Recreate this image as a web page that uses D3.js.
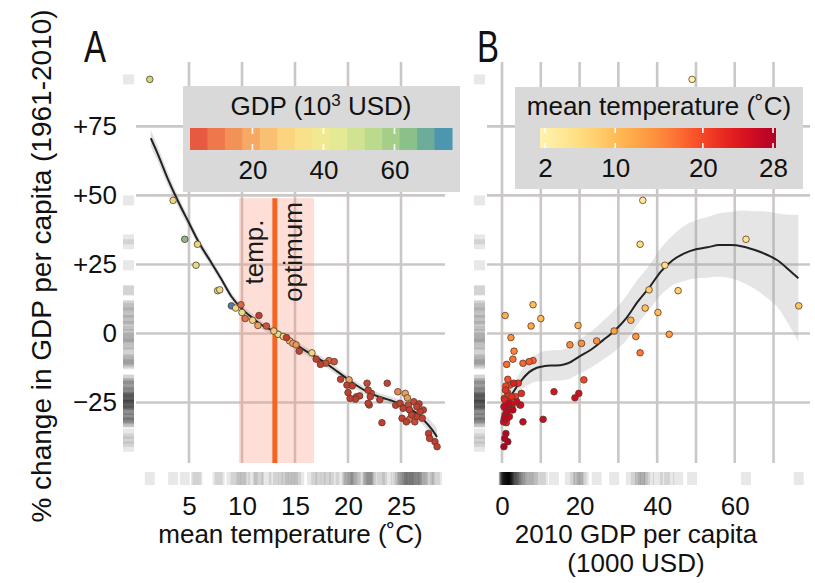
<!DOCTYPE html>
<html>
<head>
<meta charset="utf-8">
<script src="https://cdn.jsdelivr.net/npm/d3@7"></script>
<style>
  html, body { margin: 0; padding: 0; background: #fff; }
  svg { display: block; font-family: "Liberation Sans", Arial, Helvetica, sans-serif; }
</style>
</head>
<body>
<svg id="chart" width="815" height="583"></svg>
<script>
// ---------------- DATA ----------------
// one entry per country: mean temperature (°C), 2010 GDP per capita (1000 USD), % change in GDP per capita
const temps = [1.3, 3.5, 4.6, 5.8, 5.66, 7.7, 7.9, 9.0, 9.9, 9.4, 10.0, 10.3, 11.0, 11.6, 11.5, 12.3, 13.0, 13.4, 13.9, 14.2,
  14.5, 14.8, 15.1, 15.4, 16.6, 17.0, 17.4, 17.9, 18.7, 18.2,
  19.3, 20.1, 19.9, 20.4, 20.0, 20.2, 20.8, 21.1, 21.8, 21.9, 22.1, 21.9, 23.0, 23.7, 23.2, 24.7, 25.4, 25.6, 24.9, 25.2,
  25.7, 25.8, 26.2, 26.5, 26.8, 27.1, 26.0, 26.5, 27.0, 25.1, 25.5, 26.3, 25.8, 27.6, 27.7, 28.2, 28.4, 22.2, 22.0, 20.7, 26.7, 24.5];
const gdps = [49, 36.3, 62.9, 35.6, 42, 45.4, 37.9, 76.5, 8.0, 36.9, 40.2, 10.0, 33.2, 0.8, 19.6, 7.5, 28.9, 43.1, 34.5, 2.3,
  24.4, 20.5, 17.5, 3.1, 35.6, 2.8, 1.2, 5.4, 7.0, 8.0,
  1.5, 21.1, 2.0, 1.0, 1.4, 0.6, 3.5, 1.8, 4.2, 0.9, 2.5, 1.3, 0.7, 3.0, 1.1, 13.4, 19.8, 18.8, 2.2, 0.9,
  4.8, 1.6, 3.8, 0.5, 1.2, 2.8, 0.8, 1.9, 0.6, 1.4, 0.4, 5.4, 10.6, 1.0, 0.7, 1.5, 0.5, 5.0, 4.6, 1.2, 1.7, 2.6];
const changes = [92, 48.2, 34.1, 32.3, 24.7, 15.5, 15.8, 10.0, 10.4, 9.2, 7.6, 5.4, 4.8, 6.5, 2.9, 2.7, 0.9, -0.3, -1.1, -1.5,
  -2.7, -3.6, -4.1, -6.4, -7.0, -9.3, -11.2, -10.8, -10.2, -9.8,
  -16.6, -16.8, -18.7, -19.0, -21.4, -23.5, -22.9, -22.6, -18.0, -20.5, -22.9, -25.3, -24.0, -18.0, -32.3, -21.1, -21.7, -23.3, -25.3, -27.1,
  -25.9, -27.7, -24.7, -26.5, -28.3, -27.7, -29.5, -30.1, -30.7, -30.7, -32.0, -32.0, -31.1, -36.2, -38.0, -39.2, -41.0, -21.7, -25.9, -23.8, -25.5, -26.0];

// smooth fit, panel A (temperature -> change), with half-width of confidence band
const fitATemp = [1.4, 2, 3, 4, 5, 6, 7, 8, 9, 10, 11, 12, 13, 14, 15, 16, 17, 18, 19, 20, 21, 22, 23, 24, 25, 26, 27, 28, 28.4];
const fitAVal  = [70.7, 65.5, 56, 47.6, 40, 32.5, 26.3, 20, 13.4, 8.9, 5.6, 2.7, 0.9, -1.2, -3.7, -6.3, -8.6, -11.0, -13.8, -16.6, -19.3, -21.5, -23.0, -24.2, -25.6, -27.6, -30.8, -35.2, -37.5];
const fitAErr  = [3, 2.8, 2.4, 2.1, 1.8, 1.6, 1.5, 1.4, 1.4, 1.4, 1.4, 1.4, 1.4, 1.4, 1.4, 1.4, 1.4, 1.4, 1.4, 1.4, 1.4, 1.4, 1.4, 1.4, 1.5, 1.7, 2.1, 2.8, 3.2];

// smooth fit, panel B (GDP -> change)
const fitBGdp = [1.9, 3, 5, 7, 9, 11, 13, 15, 17, 20, 23, 26, 29, 32, 35, 38, 41, 44, 47, 50, 53, 56, 59, 62, 65, 68, 71, 74, 76.4];
const fitBVal = [-23.5, -21, -17, -14, -12.4, -11.8, -11.6, -11.5, -10.8, -8.3, -5.8, -2.5, 1, 5.5, 11.5, 16.7, 22.5, 26.5, 29, 30.5, 31.2, 32, 32, 31.5, 30.3, 28.7, 26.5, 23, 20];
const fitBErr = [3, 3, 3.5, 4.5, 5, 5.5, 5.5, 5.5, 5.8, 6.2, 6.5, 7, 7.5, 8, 8, 8, 8.5, 9, 10, 10.5, 11, 11.5, 12, 13, 14, 15.5, 17, 20, 23];

// temperature optimum band
const optimum = { lo: 9.7, best: 13.1, hi: 16.8, top: 49 };

// ticks
const yTicks = [-25, 0, 25, 50, 75];
const yTickLabels = ["\u221225", "0", "+25", "+50", "+75"];
const xTicksA = [5, 10, 15, 20, 25];
const xGridB = [0, 10, 20, 30, 40, 50, 60, 70];
const xTicksB = [0, 20, 40, 60];
const legendGdpTicks = [20, 40, 60];
const legendTempTicks = [2, 10, 20, 28];

// colour palettes
const gdpPalette = ["#e34a3b", "#ec6a47", "#f28a53", "#f6a35f", "#f9bb6e", "#fdd47e", "#f9e08a", "#f3eb91",
                    "#e3ea95", "#cfe391", "#b6d78a", "#a0cd86", "#7fbc8d", "#5fa29e", "#3d8bc0"];

// ---------------- DRAW ----------------
const svg = d3.select("#chart");
const FS = 26;
const pTop = 62, pBottom = 463;
const PA = { l: 136, r: 445 };
const PB = { l: 487, r: 810 };

const xA = d3.scaleLinear().domain([0, 29.15]).range([PA.l, PA.r]);
const xB = d3.scaleLinear().domain([-3.87, 79.4]).range([PB.l, PB.r]);
const y = d3.scaleLinear().domain([-46.9, 98.3]).range([pBottom, pTop]);

const gdpColor = d3.scaleSequential(d3.interpolateRgbBasis(gdpPalette)).domain([2.4, 76.2]).clamp(true);
const tempColor = d3.scaleSequential(t => d3.interpolateYlOrRd(0.08 + 0.82 * t)).domain([1.43, 28.34]).clamp(true);

const data = temps.map((t, i) => ({ t, g: gdps[i], c: changes[i] }));
const gridColor = "#cbc7c7";

function grid(xs, xScale, panel) {
  const g = svg.append("g");
  g.selectAll(".vg").data(xs).join("line")
    .attr("x1", d => xScale(d)).attr("x2", d => xScale(d))
    .attr("y1", pTop).attr("y2", pBottom)
    .attr("stroke", gridColor).attr("stroke-width", 2.6);
  g.selectAll(".hg").data(yTicks).join("line")
    .attr("x1", panel.l).attr("x2", panel.r)
    .attr("y1", d => y(d)).attr("y2", d => y(d))
    .attr("stroke", gridColor).attr("stroke-width", 2.6);
}

// ---- Panel A ----
grid(xTicksA, xA, PA);

svg.append("rect")
  .attr("x", xA(optimum.lo)).attr("width", xA(optimum.hi) - xA(optimum.lo))
  .attr("y", y(optimum.top)).attr("height", pBottom - y(optimum.top))
  .attr("fill", "rgba(250,140,110,0.28)");
svg.append("line")
  .attr("x1", xA(optimum.best)).attr("x2", xA(optimum.best))
  .attr("y1", y(optimum.top)).attr("y2", pBottom)
  .attr("stroke", "#f26522").attr("stroke-width", 5);
const midY = y(29.5);
svg.append("text").text("temp.")
  .attr("transform", `translate(${xA(optimum.best) - 12},${midY}) rotate(-90)`)
  .attr("text-anchor", "middle").attr("font-size", FS).attr("fill", "#1a1a1a");
svg.append("text").text("optimum")
  .attr("transform", `translate(${xA(optimum.best) + 27},${midY}) rotate(-90)`)
  .attr("text-anchor", "middle").attr("font-size", FS).attr("fill", "#1a1a1a");

const fitA = fitATemp.map((t, i) => ({ x: t, v: fitAVal[i], e: fitAErr[i] }));
svg.append("path").datum(fitA)
  .attr("d", d3.area().curve(d3.curveMonotoneX).x(d => xA(d.x)).y0(d => y(d.v - d.e)).y1(d => y(d.v + d.e)))
  .attr("fill", "rgba(150,150,150,0.3)");
svg.append("path").datum(fitA)
  .attr("d", d3.line().curve(d3.curveMonotoneX).x(d => xA(d.x)).y(d => y(d.v)))
  .attr("fill", "none").attr("stroke", "#222").attr("stroke-width", 2);

const sortedA = data.slice().sort((a, b) => b.g - a.g);
svg.append("g").selectAll("circle").data(sortedA).join("circle")
  .attr("cx", d => xA(d.t)).attr("cy", d => y(d.c)).attr("r", 3.3)
  .attr("fill", d => d3.color(gdpColor(d.g)).darker(d.g < 8 ? 0.45 : 0.15).formatHex())
  .attr("stroke", "#5a3a2a").attr("stroke-width", 0.8);

svg.append("g").selectAll("rect").data(data).join("rect")
  .attr("x", d => xA(d.t) - 5).attr("width", 10).attr("y", 472).attr("height", 13)
  .attr("fill", "#000").attr("fill-opacity", 0.09);
svg.append("g").selectAll("rect").data(data).join("rect")
  .attr("x", 123).attr("width", 11).attr("y", d => y(d.c) - 5).attr("height", 10)
  .attr("fill", "#000").attr("fill-opacity", 0.09);

// ---- Panel B ----
grid(xGridB, xB, PB);
const fitB = fitBGdp.map((g, i) => ({ x: g, v: fitBVal[i], e: fitBErr[i] }));
svg.append("path").datum(fitB)
  .attr("d", d3.area().curve(d3.curveMonotoneX).x(d => xB(d.x)).y0(d => y(d.v - d.e)).y1(d => y(d.v + d.e)))
  .attr("fill", "rgba(160,160,160,0.28)");
svg.append("path").datum(fitB)
  .attr("d", d3.line().curve(d3.curveMonotoneX).x(d => xB(d.x)).y(d => y(d.v)))
  .attr("fill", "none").attr("stroke", "#222").attr("stroke-width", 2);

const sortedB = data.slice().sort((a, b) => a.t - b.t);
svg.append("g").selectAll("circle").data(sortedB).join("circle")
  .attr("cx", d => xB(d.g)).attr("cy", d => y(d.c)).attr("r", 3.3)
  .attr("fill", d => tempColor(d.t)).attr("stroke", "#5a3a2a").attr("stroke-width", 0.8);

svg.append("g").selectAll("rect").data(data).join("rect")
  .attr("x", d => xB(d.g) - 5).attr("width", 10).attr("y", 472).attr("height", 13)
  .attr("fill", "#000").attr("fill-opacity", 0.09);
svg.append("g").selectAll("rect").data(data).join("rect")
  .attr("x", 474).attr("width", 11).attr("y", d => y(d.c) - 5).attr("height", 10)
  .attr("fill", "#000").attr("fill-opacity", 0.09);

// ---- Axes ----
function styleAxis(g) {
  g.select(".domain").remove();
  g.selectAll(".tick line").remove();
  g.selectAll("text").attr("font-size", FS).attr("fill", "#111")
    .attr("font-family", "'Liberation Sans', Arial, sans-serif");
}
svg.append("g").attr("transform", `translate(0,${pBottom})`)
  .call(d3.axisBottom(xA).tickValues(xTicksA).tickSize(0).tickPadding(33.5).tickFormat(d3.format("d")))
  .call(styleAxis);
svg.append("g").attr("transform", `translate(0,${pBottom})`)
  .call(d3.axisBottom(xB).tickValues(xTicksB).tickSize(0).tickPadding(33.5).tickFormat(d3.format("d")))
  .call(styleAxis);
svg.append("g").attr("transform", `translate(${PA.l},0)`)
  .call(d3.axisLeft(y).tickValues(yTicks).tickSize(0).tickPadding(19).tickFormat((d, i) => yTickLabels[i]))
  .call(styleAxis);

svg.append("text").text("mean temperature (\u02DAC)")
  .attr("x", (PA.l + PA.r) / 2).attr("y", 543).attr("text-anchor", "middle")
  .attr("font-size", FS).attr("fill", "#111");
svg.append("text").text("2010 GDP per capita")
  .attr("x", 636).attr("y", 543).attr("text-anchor", "middle")
  .attr("font-size", FS).attr("fill", "#111");
svg.append("text").text("(1000 USD)")
  .attr("x", 636).attr("y", 572).attr("text-anchor", "middle")
  .attr("font-size", FS).attr("fill", "#111");
svg.append("text").text("% change in GDP per capita (1961-2010)")
  .attr("transform", "translate(51,266) rotate(-90)").attr("text-anchor", "middle")
  .attr("font-size", 28).attr("fill", "#111");

svg.append("text").text("A").attr("transform", "translate(84,62) scale(0.75,1)")
  .attr("font-size", 44).attr("fill", "#111");
svg.append("text").text("B").attr("transform", "translate(477,62) scale(0.75,1)")
  .attr("font-size", 44).attr("fill", "#111");

// ---- Legend A (GDP) ----
svg.append("rect").attr("x", 183).attr("y", 86).attr("width", 277).attr("height", 106).attr("fill", "#d9d9d9");
const tA = svg.append("text").attr("x", 321).attr("y", 115).attr("text-anchor", "middle")
  .attr("font-size", FS).attr("fill", "#111");
tA.append("tspan").text("GDP (10");
tA.append("tspan").text("3").attr("font-size", 17).attr("dy", -9);
tA.append("tspan").text(" USD)").attr("dy", 9);
const lgA = d3.scaleLinear().domain([2.4, 76.2]).range([190, 452]);
const nBlocks = gdpPalette.length;
const blockW = (lgA.range()[1] - lgA.range()[0]) / nBlocks;
const blocks = d3.range(nBlocks).map(i => lgA.invert(190 + (i + 0.5) * blockW));
svg.append("g").selectAll("rect").data(blocks).join("rect")
  .attr("x", (d, i) => 190 + i * blockW).attr("width", blockW + 0.5)
  .attr("y", 128).attr("height", 22).attr("fill", d => gdpColor(d));
svg.append("g").selectAll("line").data(legendGdpTicks.flatMap(v => [[v, 128, 134], [v, 144, 150]])).join("line")
  .attr("x1", d => lgA(d[0])).attr("x2", d => lgA(d[0])).attr("y1", d => d[1]).attr("y2", d => d[2])
  .attr("stroke", "#fff").attr("stroke-width", 1.6);
svg.append("g").attr("transform", "translate(0,150)")
  .call(d3.axisBottom(lgA).tickValues(legendGdpTicks).tickSize(0).tickPadding(11).tickFormat(d3.format("d")))
  .call(styleAxis);

// ---- Legend B (temperature) ----
svg.append("rect").attr("x", 515).attr("y", 87).attr("width", 288).attr("height", 102).attr("fill", "#d9d9d9");
svg.append("text").text("mean temperature (\u02DAC)").attr("x", 659).attr("y", 115).attr("text-anchor", "middle")
  .attr("font-size", FS).attr("fill", "#111");
const lgB = d3.scaleLinear().domain([1.43, 28.34]).range([540, 776]);
const grad = svg.append("defs").append("linearGradient").attr("id", "tgrad")
  .attr("x1", "0%").attr("x2", "100%").attr("y1", "0%").attr("y2", "0%");
grad.selectAll("stop").data(d3.range(0, 1.0001, 0.05)).join("stop")
  .attr("offset", d => (d * 100) + "%")
  .attr("stop-color", d => tempColor(lgB.domain()[0] + d * (lgB.domain()[1] - lgB.domain()[0])));
svg.append("rect").attr("x", 540).attr("y", 128).attr("width", 236).attr("height", 20).attr("fill", "url(#tgrad)");
svg.append("g").selectAll("line").data(legendTempTicks.flatMap(v => [[v, 128, 133], [v, 143, 148]])).join("line")
  .attr("x1", d => lgB(d[0])).attr("x2", d => lgB(d[0])).attr("y1", d => d[1]).attr("y2", d => d[2])
  .attr("stroke", "#fff").attr("stroke-width", 1.6);
svg.append("g").attr("transform", "translate(0,148)")
  .call(d3.axisBottom(lgB).tickValues(legendTempTicks).tickSize(0).tickPadding(11).tickFormat(d3.format("d")))
  .call(styleAxis);
</script>
</body>
</html>
